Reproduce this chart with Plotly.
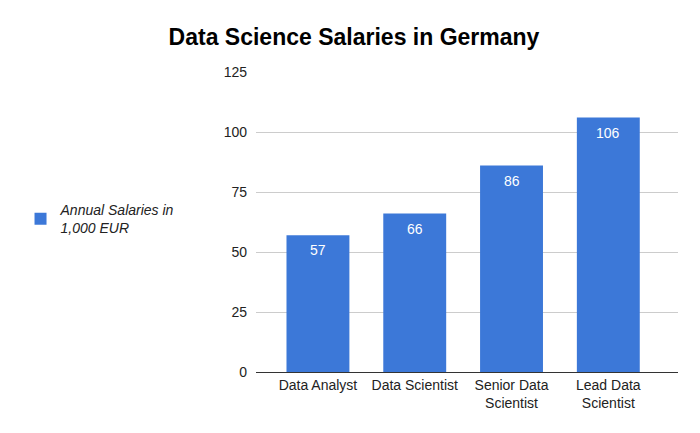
import plotly.graph_objects as go

# chart data
roles = ["Data Analyst", "Data Scientist", "Senior Data<br>Scientist", "Lead Data<br>Scientist"]
salaries = [57, 66, 86, 106]
y_ticks = [0, 25, 50, 75, 100, 125]

BAR_BLUE = "#3c78d8"
FONT = "Arial, Liberation Sans, sans-serif"

# the page has an 8px body margin, so the figure is 8px smaller than the window
FIG_W = 692
FIG_H = 425


def bar_chart():
    """
        Does: builds the salary bar chart in the style of a Google Sheets chart
    """
    fig = go.Figure()
    fig.add_trace(go.Bar(
        x=roles,
        y=salaries,
        name="<i>Annual Salaries in<br>1,000 EUR</i>",
        marker=dict(color=BAR_BLUE, line=dict(width=0)),
        width=0.65,
        hoverinfo="x+y",
        showlegend=True,
    ))

    # value labels just under the top of each bar
    for role, val in zip(roles, salaries):
        fig.add_annotation(
            x=role, y=val, text=str(val),
            showarrow=False, yanchor="middle", yshift=-15,
            font=dict(color="white", size=14, family=FONT),
        )

    fig.update_layout(
        width=FIG_W,
        height=FIG_H,
        margin=dict(l=240, r=22, t=64, b=61),
        paper_bgcolor="white",
        plot_bgcolor="white",
        font=dict(family=FONT, size=14, color="#222222"),
        title=dict(
            text="<b>Data Science Salaries in Germany</b>",
            x=0.5,
            xanchor="center",
            y=1 - 29 / FIG_H,
            yanchor="middle",
            font=dict(size=23, color="black", family=FONT),
        ),
        legend=dict(
            x=-0.558,
            xanchor="left",
            y=0.51,
            yanchor="middle",
            font=dict(size=14, color="#222222", family=FONT),
            itemsizing="constant",
            bgcolor="rgba(0,0,0,0)",
        ),
    )

    fig.update_xaxes(
        range=[-0.64, 3.72],
        showgrid=False,
        showline=True,
        linecolor="#333333",
        linewidth=1,
        ticks="",
        tickfont=dict(size=14, color="#222222"),
    )
    fig.update_yaxes(
        range=[0, 125],
        tickvals=y_ticks,
        showgrid=True,
        gridcolor="#cccccc",
        gridwidth=1,
        zeroline=False,
        showline=False,
        ticks="",
        ticklabelstandoff=8,
        tickfont=dict(size=14, color="#222222"),
    )
    return fig


def main():
    fig = bar_chart()
    fig.write_html("out.html")


if __name__ == "__main__":
    main()
